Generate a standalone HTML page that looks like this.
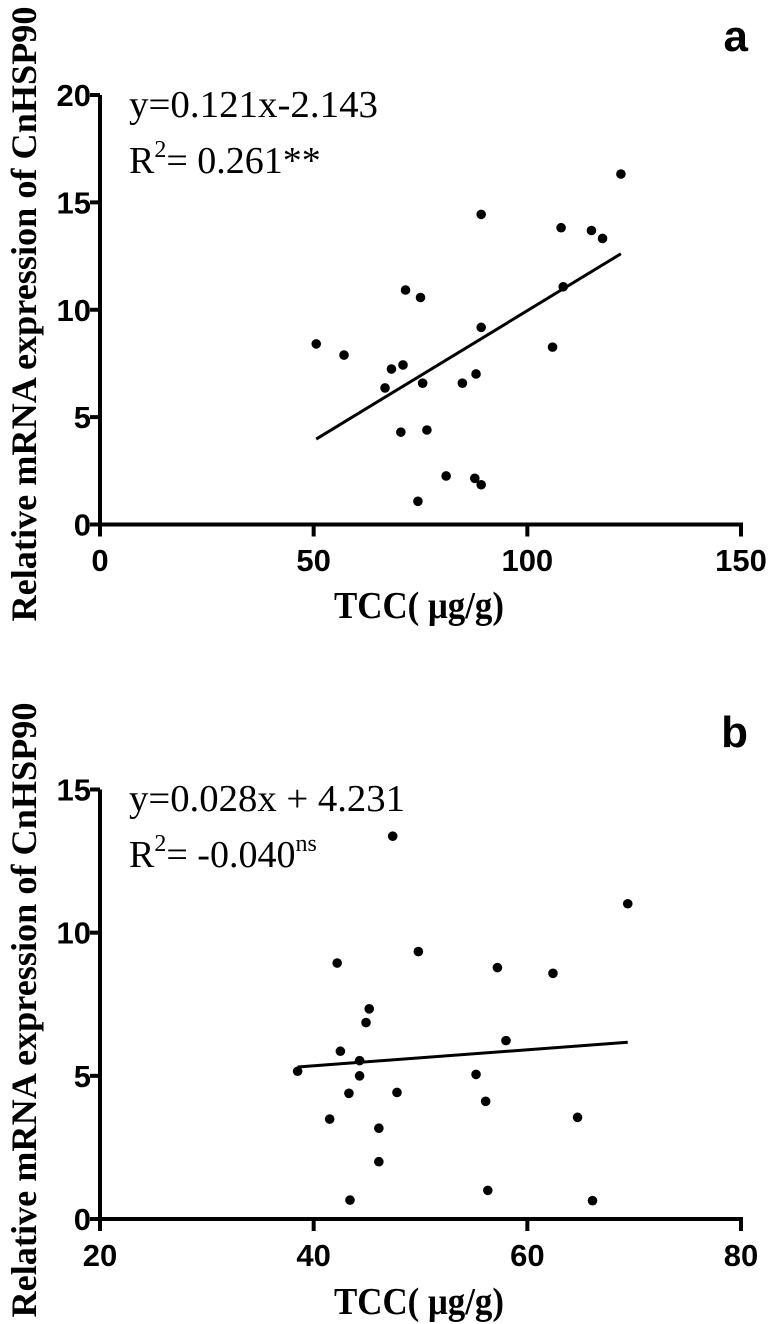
<!DOCTYPE html>
<html><head><meta charset="utf-8"><style>
html,body{margin:0;padding:0;background:#fff;}
svg{display:block;}
.tick{font-family:"Liberation Sans",Arial,sans-serif;font-weight:bold;font-size:31px;fill:#000;}
.lab{font-family:"Liberation Sans",Arial,sans-serif;font-weight:bold;font-size:44px;fill:#000;}
.ttl{font-family:"Liberation Serif","Times New Roman",serif;font-weight:bold;fill:#000;}
.eq{font-family:"Liberation Serif","Times New Roman",serif;font-size:38px;fill:#000;}
</style></head><body>
<svg id="chart" width="768" height="1324" viewBox="0 0 768 1324" xmlns="http://www.w3.org/2000/svg"></svg>
<script>
// Panel a data
const aX = [50.6,57.1,68.2,70.9,66.7,71.5,75.0,75.5,70.4,76.5,81.0,74.4,87.7,89.2,84.8,88.0,89.2,89.2,105.9,108.4,107.9,115.0,117.6,121.9];
const aY = [8.41,7.89,7.24,7.43,6.36,10.92,10.57,6.58,4.30,4.40,2.26,1.08,2.15,1.85,6.58,7.01,9.18,14.44,8.26,11.07,13.82,13.69,13.32,16.32];
const aXTicks = [0,50,100,150];
const aYTicks = [0,5,10,15,20];
const aFit = [0.121,-2.143];
const aFitRange = [50.6,121.9];
// Panel b data
const bX = [38.5,41.5,42.2,42.5,43.3,43.4,44.3,44.3,44.9,45.2,46.1,46.1,47.4,47.8,49.8,55.2,56.1,56.3,57.2,58.0,62.4,64.7,66.1,69.4];
const bY = [5.16,3.49,8.94,5.86,4.39,0.66,5.53,5.00,6.86,7.34,3.17,2.00,13.37,4.42,9.34,5.05,4.11,1.00,8.78,6.23,8.58,3.55,0.64,11.01];
const bXTicks = [20,40,60,80];
const bYTicks = [0,5,10,15];
const bFit = [0.028,4.231];
const bFitRange = [38.5,69.4];

const NS="http://www.w3.org/2000/svg";
const svg=document.getElementById('chart');
function mk(tag,attrs,parent){const e=document.createElementNS(NS,tag);for(const k in attrs)e.setAttribute(k,attrs[k]);(parent||svg).appendChild(e);return e;}

function panel(cfg){
  const g=mk('g',{});
  
  
  const xs=v=>cfg.px0+(v-cfg.xmin)/(cfg.xmax-cfg.xmin)*(cfg.px1-cfg.px0);
  const ys=v=>cfg.py0-(v-cfg.ymin)/(cfg.ymax-cfg.ymin)*(cfg.py0-cfg.py1);
  const ya=mk('line',{x1:cfg.px0,y1:cfg.py1,x2:cfg.px0,y2:cfg.py0+12,stroke:'#000','stroke-width':4},g);
  
  
  const xa=mk('line',{x1:cfg.px0-10,y1:cfg.py0,x2:cfg.px1+2,y2:cfg.py0,stroke:'#000','stroke-width':4},g);
  
  
  cfg.yt.forEach(v=>{
    const y=ys(v);
    mk('line',{x1:cfg.px0-10,y1:y,x2:cfg.px0,y2:y,stroke:'#000','stroke-width':4},g);
    const t=mk('text',{x:cfg.px0-9,y:y+11,'text-anchor':'end',class:'tick'},g);
    t.textContent=v;
    
    
  });
  cfg.xt.forEach(v=>{
    const x=xs(v);
    mk('line',{x1:x,y1:cfg.py0,x2:x,y2:cfg.py0+12,stroke:'#000','stroke-width':4},g);
    const t=mk('text',{x:x,y:cfg.xtY,'text-anchor':'middle',class:'tick'},g);
    t.textContent=v;
    
    
  });
  const fl=mk('line',{x1:xs(cfg.fr[0]),y1:ys(cfg.fit[0]*cfg.fr[0]+cfg.fit[1]),x2:xs(cfg.fr[1]),y2:ys(cfg.fit[0]*cfg.fr[1]+cfg.fit[1]),stroke:'#000','stroke-width':3},g);
  
  
  cfg.x.forEach((v,i)=>{
    const c=mk('ellipse',{cx:xs(v),cy:ys(cfg.y[i]),rx:4.8,ry:4.8,fill:'#000'},g);
    
    
  });
  const xt=mk('text',{x:419,y:cfg.titleY,'text-anchor':'middle',class:'ttl','font-size':38,textLength:170,lengthAdjust:'spacingAndGlyphs'},g);
  xt.textContent='TCC( μg/g)';
  
  
  const yt=mk('text',{x:0,y:0,'text-anchor':'middle',class:'ttl','font-size':36,textLength:615,lengthAdjust:'spacingAndGlyphs',transform:'translate(36,'+cfg.yTitleC+') rotate(-90)'},g);
  yt.textContent='Relative mRNA expression of CnHSP90';
  
  
  const lab=mk('text',{x:748,y:cfg.labY,'text-anchor':'end',class:'lab'},g);
  lab.textContent=cfg.id;
  
  
  const e1=mk('text',{x:129,y:cfg.eqY,class:'eq',textLength:cfg.eq1W,lengthAdjust:'spacingAndGlyphs'},g);
  e1.textContent=cfg.eq1;
  
  
  const e2=mk('text',{x:129,y:cfg.eqY+56,class:'eq'},g);
  
  
  e2.innerHTML='R<tspan font-size="24" dy="-16">2</tspan><tspan dy="16">= '+cfg.r2+'</tspan>'+(cfg.sup?'<tspan font-size="24" dy="-16">'+cfg.sup+'</tspan>':'');
}

panel({id:'a',x:aX,y:aY,xt:aXTicks,yt:aYTicks,fit:aFit,fr:aFitRange,xmin:0,xmax:150,ymin:0,ymax:20,
  px0:100,px1:741,py0:524.5,py1:95,xtY:571,titleY:618,yTitleC:314,labY:51,eqY:117,
  eq1:'y=0.121x-2.143',eq1W:249,r2:'0.261**',sup:''});
panel({id:'b',x:bX,y:bY,xt:bXTicks,yt:bYTicks,fit:bFit,fr:bFitRange,xmin:20,xmax:80,ymin:0,ymax:15,
  px0:100,px1:741,py0:1219,py1:789.5,xtY:1266,titleY:1314,yTitleC:1010,labY:747,eqY:811,
  eq1:'y=0.028x + 4.231',eq1W:276,r2:'-0.040',sup:'ns'});
</script>
</body></html>
